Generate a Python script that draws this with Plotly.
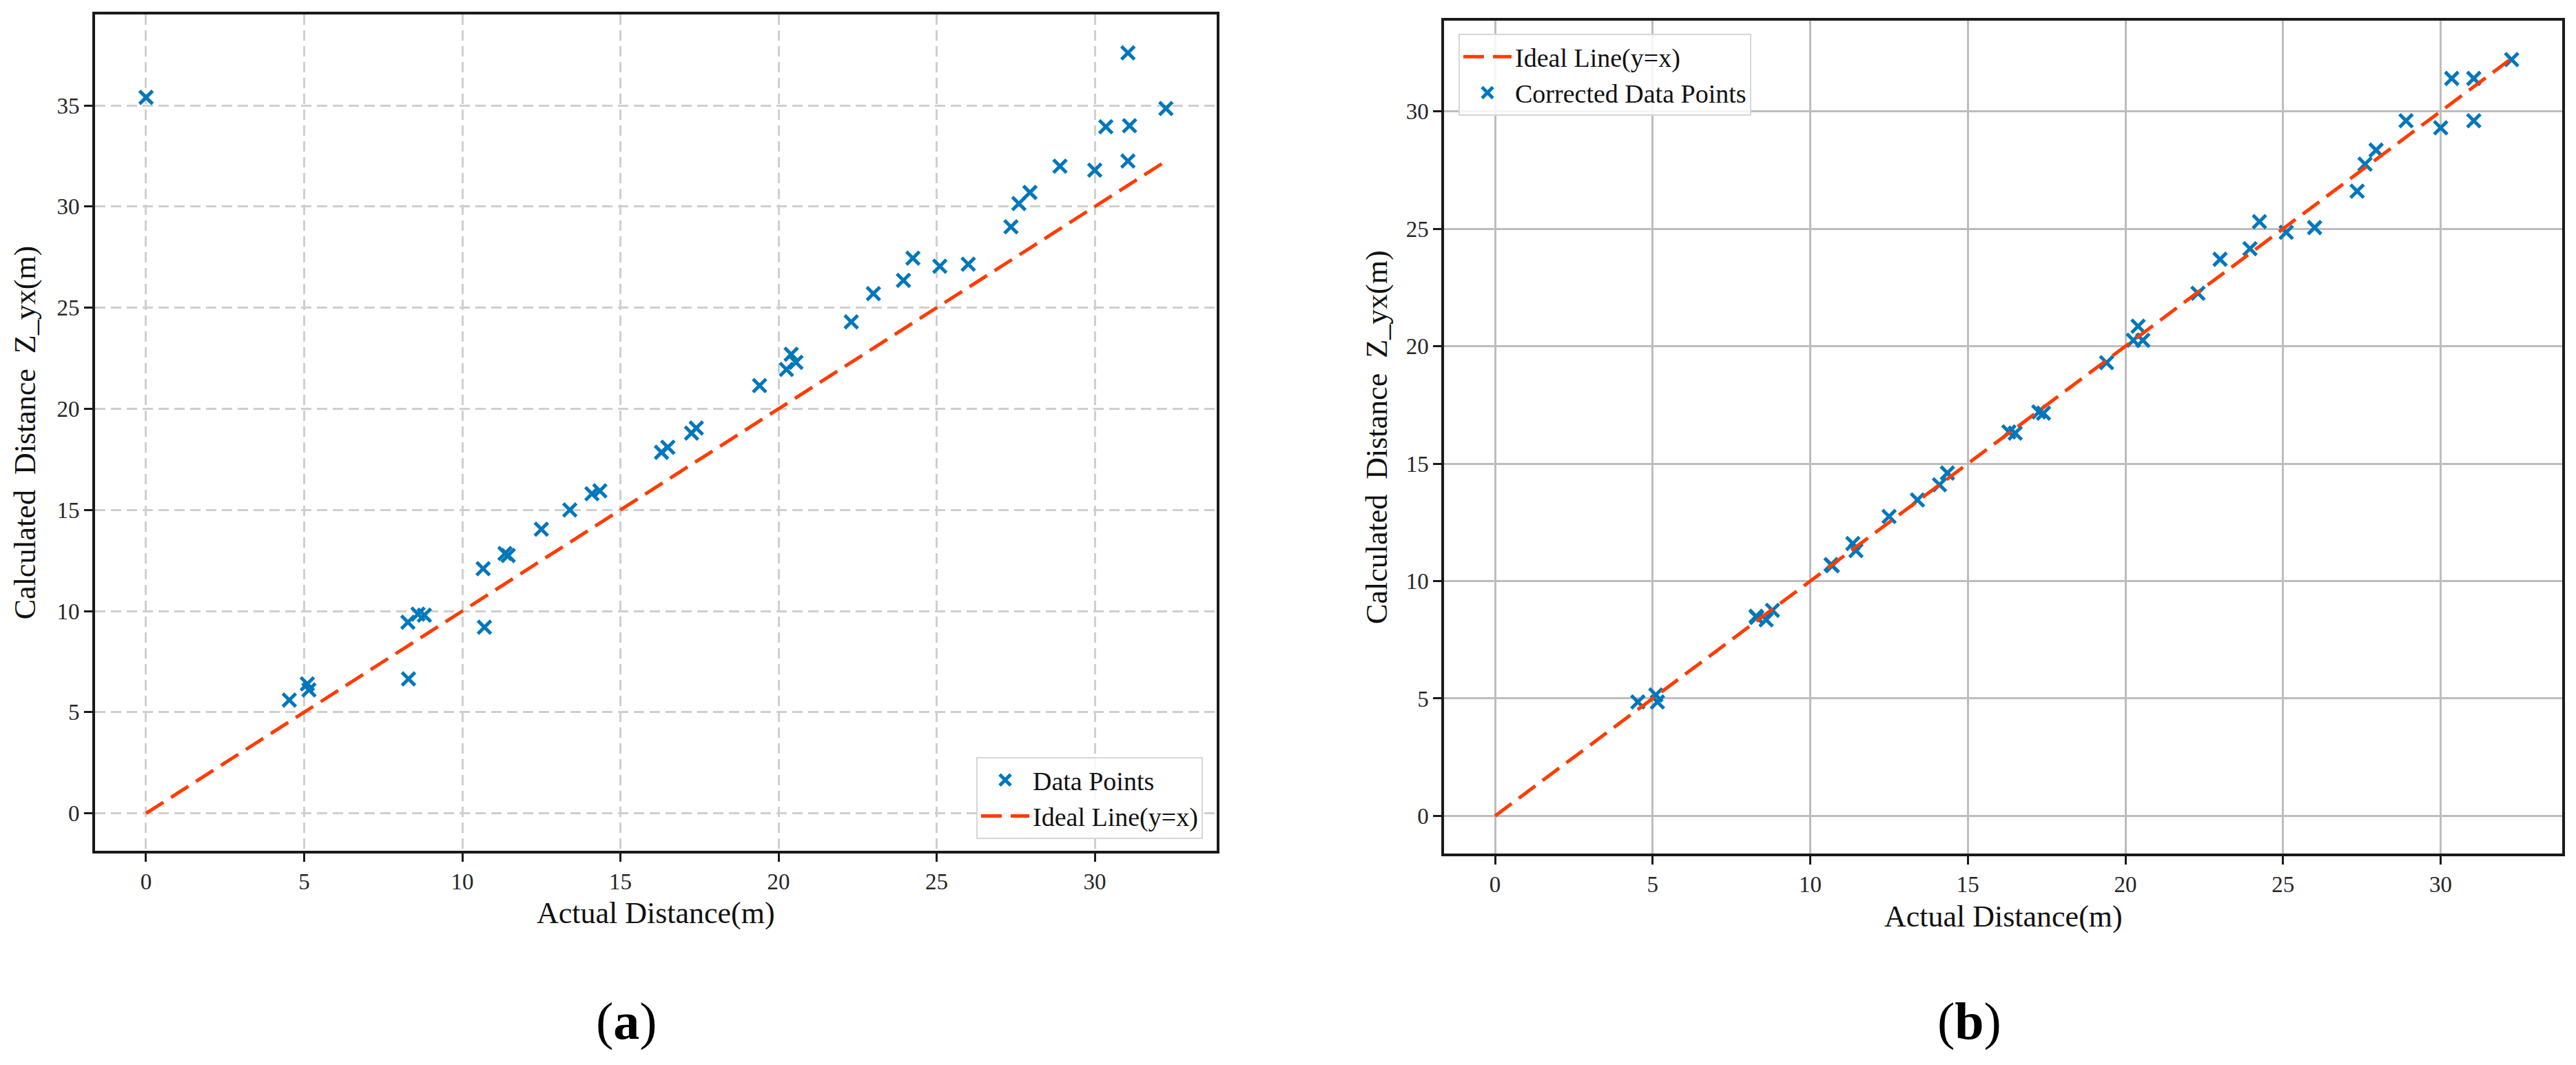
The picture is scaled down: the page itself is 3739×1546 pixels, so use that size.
import plotly.graph_objects as go

# ---------------- data ----------------
actual_a = [0.0, 4.53, 5.1, 5.15, 8.28, 8.3, 8.6, 8.8, 10.66, 10.7, 11.35, 11.45, 12.5, 13.4,
            14.1, 14.35, 16.3, 16.5, 17.25, 17.4, 19.4, 20.25, 20.4, 20.55, 22.3, 23.0, 23.95,
            24.25, 25.1, 26.0, 27.35, 27.6, 27.95, 28.9, 30.0, 30.35, 31.1, 31.05, 31.05, 32.25]
calc_a = [35.4, 5.6, 6.4, 6.1, 9.45, 6.65, 9.85, 9.8, 12.1, 9.2, 12.85, 12.75, 14.05, 15.0,
          15.8, 15.95, 17.85, 18.1, 18.8, 19.05, 21.15, 21.95, 22.7, 22.3, 24.3, 25.7, 26.35,
          27.45, 27.05, 27.15, 29.0, 30.15, 30.7, 32.0, 31.8, 33.95, 34.0, 32.25, 37.6, 34.85]

actual_b = [4.53, 5.1, 5.15, 8.28, 8.3, 8.6, 8.8, 10.66, 10.7, 11.35, 11.45, 12.5, 13.4, 14.1,
            14.35, 16.3, 16.5, 17.25, 17.4, 19.4, 20.25, 20.4, 20.55, 22.3, 23.0, 23.95, 24.25,
            25.1, 26.0, 27.35, 27.6, 27.95, 28.9, 30.0, 30.35, 31.05, 31.05, 32.25]
calc_b = [4.85, 5.15, 4.85, 8.5, 8.45, 8.35, 8.75, 10.7, 10.65, 11.6, 11.3, 12.75, 13.45, 14.1,
          14.6, 16.35, 16.3, 17.2, 17.15, 19.3, 20.25, 20.85, 20.25, 22.25, 23.7, 24.15, 25.3,
          24.85, 25.05, 26.6, 27.75, 28.35, 29.6, 29.3, 31.4, 31.4, 29.6, 32.2]

ideal_line = [0.0, 32.25]

x_ticks = [0, 5, 10, 15, 20, 25, 30]
y_ticks_a = [0, 5, 10, 15, 20, 25, 30, 35]
y_ticks_b = [0, 5, 10, 15, 20, 25, 30]

# ---------------- style ----------------
W, H = 3739, 1546
FONT = "Liberation Serif"
BLUE = "#0077bb"
RED = "#ff3c00"

fig = go.Figure()

marker_style = dict(symbol="x-thin", size=19, color=BLUE, line=dict(width=5, color=BLUE))
line_style = dict(color=RED, width=5, dash="30px,13px")

# panel (a)
fig.add_trace(go.Scatter(x=actual_a, y=calc_a, mode="markers", name="Data Points",
                         marker=marker_style, xaxis="x", yaxis="y", legend="legend",
                         legendrank=1))
fig.add_trace(go.Scatter(x=ideal_line, y=ideal_line, mode="lines", name="Ideal Line(y=x)",
                         line=line_style, xaxis="x", yaxis="y", legend="legend",
                         legendrank=2))
# panel (b)
fig.add_trace(go.Scatter(x=actual_b, y=calc_b, mode="markers", name="Corrected Data Points",
                         marker=marker_style, xaxis="x2", yaxis="y2", legend="legend2",
                         legendrank=2))
fig.add_trace(go.Scatter(x=ideal_line, y=ideal_line, mode="lines", name="Ideal Line(y=x)",
                         line=line_style, xaxis="x2", yaxis="y2", legend="legend2",
                         legendrank=1))

tickfont = dict(family=FONT, size=33, color="#262626")
titlefont = dict(family=FONT, size=44, color="#111111")

common = dict(showline=True, mirror=True, linecolor="#1a1a1a", linewidth=4,
              ticks="outside", ticklen=12, tickwidth=3, tickcolor="#1a1a1a",
              tickfont=tickfont, zeroline=False, showgrid=True)

grid_a = dict(gridcolor="#cfcfcf", gridwidth=2.5, griddash="15px,8px")
grid_b = dict(gridcolor="#bdbdbd", gridwidth=3, griddash="solid")

fig.update_layout(
    width=W, height=H,
    margin=dict(l=0, r=0, t=0, b=0),
    paper_bgcolor="white", plot_bgcolor="white",
    xaxis=dict(domain=[138 / W, 1765.5 / W], anchor="y", range=[-1.612, 33.845],
               tickvals=x_ticks, title=dict(text="Actual Distance(m)", font=titlefont, standoff=14),
               **common, **grid_a),
    yaxis=dict(domain=[1 - 1235 / H, 1 - 21 / H], anchor="x", range=[-1.85, 39.5],
               tickvals=y_ticks_a, title=dict(text="Calculated  Distance  Z_yx(m)", font=titlefont, standoff=18),
               **common, **grid_a),
    xaxis2=dict(domain=[2096.4 / W, 3719.2 / W], anchor="y2", range=[-1.61, 33.86],
                tickvals=x_ticks, title=dict(text="Actual Distance(m)", font=titlefont, standoff=14),
                **common, **grid_b),
    yaxis2=dict(domain=[1 - 1239.3 / H, 1 - 30 / H], anchor="x2", range=[-1.61, 33.86],
                tickvals=y_ticks_b, title=dict(text="Calculated  Distance  Z_yx(m)", font=titlefont, standoff=14),
                **common, **grid_b),
    legend=dict(x=1746 / W, y=1 - 1218 / H, xanchor="right", yanchor="bottom",
                bgcolor="rgba(255,255,255,0.85)", bordercolor="#d6d6d6", borderwidth=2,
                font=dict(family=FONT, size=38, color="#111111"), itemwidth=70,
                traceorder="normal", tracegroupgap=0),
    legend2=dict(x=2117 / W, y=1 - 49 / H, xanchor="left", yanchor="top",
                 bgcolor="rgba(255,255,255,0.85)", bordercolor="#d6d6d6", borderwidth=2,
                 font=dict(family=FONT, size=38, color="#111111"), itemwidth=70,
                 traceorder="normal", tracegroupgap=0),
    showlegend=True,
)

for label, xc in [("(<b>a</b>)", 909), ("(<b>b</b>)", 2858)]:
    fig.add_annotation(text=label, x=xc / W, y=1 - 1482 / H, xref="paper", yref="paper",
                       xanchor="center", yanchor="middle", showarrow=False,
                       font=dict(family=FONT, size=76, color="#000000"))

fig.write_html("out.html", config={"displayModeBar": False},
               post_script="document.body.style.margin='0';")
